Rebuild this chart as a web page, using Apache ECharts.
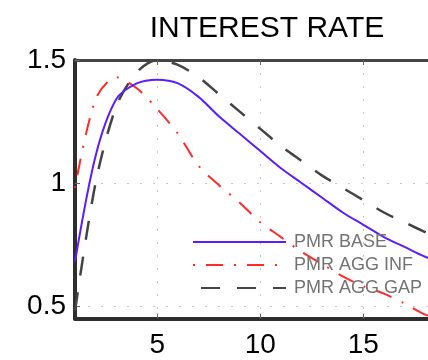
<!DOCTYPE html>
<html>
<head>
<meta charset="utf-8">
<script src="https://cdn.jsdelivr.net/npm/echarts@6/dist/echarts.min.js"></script>
<style>
  html, body { margin: 0; padding: 0; background: #fff; }
  #chart { width: 428px; height: 360px; }
</style>
</head>
<body>
<div id="chart"></div>
<script>
// Quarters after the shock
const quarters = [1, 2, 3, 4, 5, 6, 7, 8, 9, 10, 11, 12, 13, 14, 15, 16, 17, 18, 19, 20];

// Interest rate responses
const pmrBase   = [0.68, 1.11, 1.34, 1.405, 1.42, 1.405, 1.35, 1.27, 1.20, 1.13, 1.06, 1.00, 0.94, 0.88, 0.83, 0.78, 0.74, 0.70, 0.67, 0.64];
const pmrAggInf = [0.98, 1.34, 1.43, 1.385, 1.30, 1.20, 1.07, 0.99, 0.92, 0.84, 0.78, 0.72, 0.67, 0.62, 0.58, 0.55, 0.51, 0.465, 0.44, 0.41];
const pmrAggGap = [0.48, 1.00, 1.31, 1.45, 1.50, 1.48, 1.43, 1.36, 1.29, 1.22, 1.15, 1.09, 1.03, 0.98, 0.93, 0.88, 0.84, 0.80, 0.76, 0.73];

const seriesNames = ['PMR BASE', 'PMR AGG INF', 'PMR AGG GAP'];

// Axis ticks
const xTicks = [5, 10, 15];
const yTicks = [0.5, 1, 1.5];

const pairs = (ys) => quarters.map((q, i) => [q, ys[i]]);

const chart = echarts.init(document.getElementById('chart'), null, { renderer: 'canvas' });

const fontFamily = '"Liberation Sans", Arial, sans-serif';
const gridDots = { color: '#c8c8c8', width: 1, type: [2, 11] };

chart.setOption({
  animation: false,
  backgroundColor: '#ffffff',
  title: {
    text: 'INTEREST RATE',
    left: 262,
    top: 9,
    textAlign: 'center',
    textStyle: { fontFamily, fontSize: 30, fontWeight: 'normal', color: '#000' }
  },
  legend: {
    orient: 'vertical',
    left: 192,
    top: 233,
    padding: 0,
    itemWidth: 93,
    itemHeight: 14,
    itemGap: 5,
    data: seriesNames,
    itemStyle: { opacity: 0 },
    textStyle: { fontFamily, fontSize: 18, color: '#737373', padding: [0, 0, 0, 3] }
  },
  grid: { left: 75, top: 60, right: 0, bottom: 41.5, containLabel: false },
  xAxis: [
    {
      type: 'value',
      min: 1,
      max: 18.14,
      axisLine: { onZero: false, lineStyle: { color: '#2e2e2e', width: 4 } },
      axisTick: { show: true, inside: true, length: 5, customValues: xTicks, lineStyle: { color: '#666' } },
      axisLabel: { customValues: xTicks, margin: 13, fontFamily, fontSize: 28, color: '#000' },
      splitLine: { show: true, lineStyle: gridDots }
    },
    {
      type: 'value',
      position: 'top',
      min: 1,
      max: 18.14,
      axisLine: { onZero: false, lineStyle: { color: '#444', width: 3 } },
      axisTick: { show: true, inside: true, length: 5, customValues: xTicks, lineStyle: { color: '#666' } },
      axisLabel: { show: false },
      splitLine: { show: false }
    }
  ],
  yAxis: {
    type: 'value',
    min: 0.449,
    max: 1.5,
    axisLine: { show: true, onZero: false, lineStyle: { color: '#2e2e2e', width: 4 } },
    axisTick: { show: true, inside: true, length: 5, customValues: yTicks, lineStyle: { color: '#666' } },
    axisLabel: { customValues: yTicks, margin: 9, padding: [11, 0, 0, 0], fontFamily, fontSize: 28, color: '#000' },
    splitLine: { show: true, lineStyle: gridDots }
  },
  series: [
    {
      name: seriesNames[0],
      type: 'line',
      data: pairs(pmrBase),
      symbol: 'none',
      smooth: 0.3,
      lineStyle: { color: '#5b1cff', width: 2 },
      itemStyle: { color: '#5b1cff' },
      z: 3
    },
    {
      name: seriesNames[1],
      type: 'line',
      data: pairs(pmrAggInf),
      symbol: 'none',
      smooth: 0.3,
      lineStyle: { color: '#ff2a2a', width: 2, type: [17, 11, 2, 11], dashOffset: 28 },
      itemStyle: { color: '#ff2a2a' },
      z: 2
    },
    {
      name: seriesNames[2],
      type: 'line',
      data: pairs(pmrAggGap),
      symbol: 'none',
      smooth: 0.3,
      lineStyle: { color: '#444', width: 2.5, type: [19, 17] },
      itemStyle: { color: '#444' },
      z: 2
    }
  ]
});
</script>
</body>
</html>
